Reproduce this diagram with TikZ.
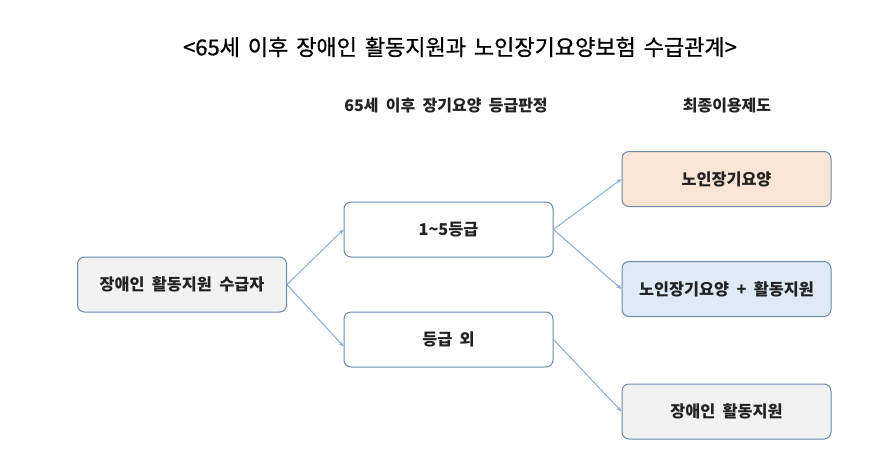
\documentclass[tikz,border=0pt]{standalone}
\usepackage{fontspec}
\setmainfont{Noto Sans CJK KR}
\newfontfamily\ttlfont{Noto Sans CJK KR}[WordSpace=1.6, FakeBold=0.8]
\newfontfamily\boxfont{Noto Sans CJK KR}[WordSpace=2.0]
\usetikzlibrary{arrows.meta,calc}
\definecolor{bordc}{HTML}{6A89AC}
\definecolor{arrc}{HTML}{86AED6}
\definecolor{grayfill}{HTML}{F2F2F2}
\definecolor{peach}{HTML}{FCE4D6}
\definecolor{lblue}{HTML}{DEEBF7}
\definecolor{txt}{HTML}{222222}
\tikzset{
  box/.style={draw=bordc, line width=1pt, rounded corners=7pt, minimum width=209pt, minimum height=55pt, inner sep=0pt, text=txt, font=\boxfont\bfseries\fontsize{16.3}{18}\selectfont},
  conn/.style={draw=arrc, line width=1pt, -{Stealth[length=5pt,width=4pt]}},
  hdr/.style={text=txt, font=\boxfont\bfseries\fontsize{16}{18}\selectfont},
  ttl/.style={text=black, font=\ttlfont\fontsize{22}{26}\selectfont}
}
\begin{document}
\begin{tikzpicture}[x=1pt,y=-1pt]
\useasboundingbox (0,0) rectangle (881,464);
\fill[white] (0,0) rectangle (881,464);
\node[ttl] (title) at (460,47) {<65세 이후 장애인 활동지원과 노인장기요양보험 수급관계>};
\node[hdr] (h1) at (446,106) {65세 이후 장기요양 등급판정};
\node[hdr] (h2) at (727,106) {최종이용제도};
\node[box, fill=grayfill] (src) at (182,284.5) {장애인 활동지원 수급자};
\node[box, fill=white] (g15) at (448.5,229.5) {1\textasciitilde5등급};
\node[box, fill=white] (gout) at (448.5,339.5) {등급 외};
\node[box, fill=peach] (r1) at (726.5,179) {노인장기요양};
\node[box, fill=lblue] (r2) at (726.5,289) {노인장기요양 + 활동지원};
\node[box, fill=grayfill] (r3) at (726.5,411.5) {장애인 활동지원};
\draw[conn] (src.east) -- (g15.west);
\draw[conn] (src.east) -- ($(gout.west)+(0,7)$);
\draw[conn] (g15.east) -- (r1.west);
\draw[conn] (g15.east) -- (r2.west);
\draw[conn] (gout.east) -- (r3.west);
\end{tikzpicture}
\end{document}
